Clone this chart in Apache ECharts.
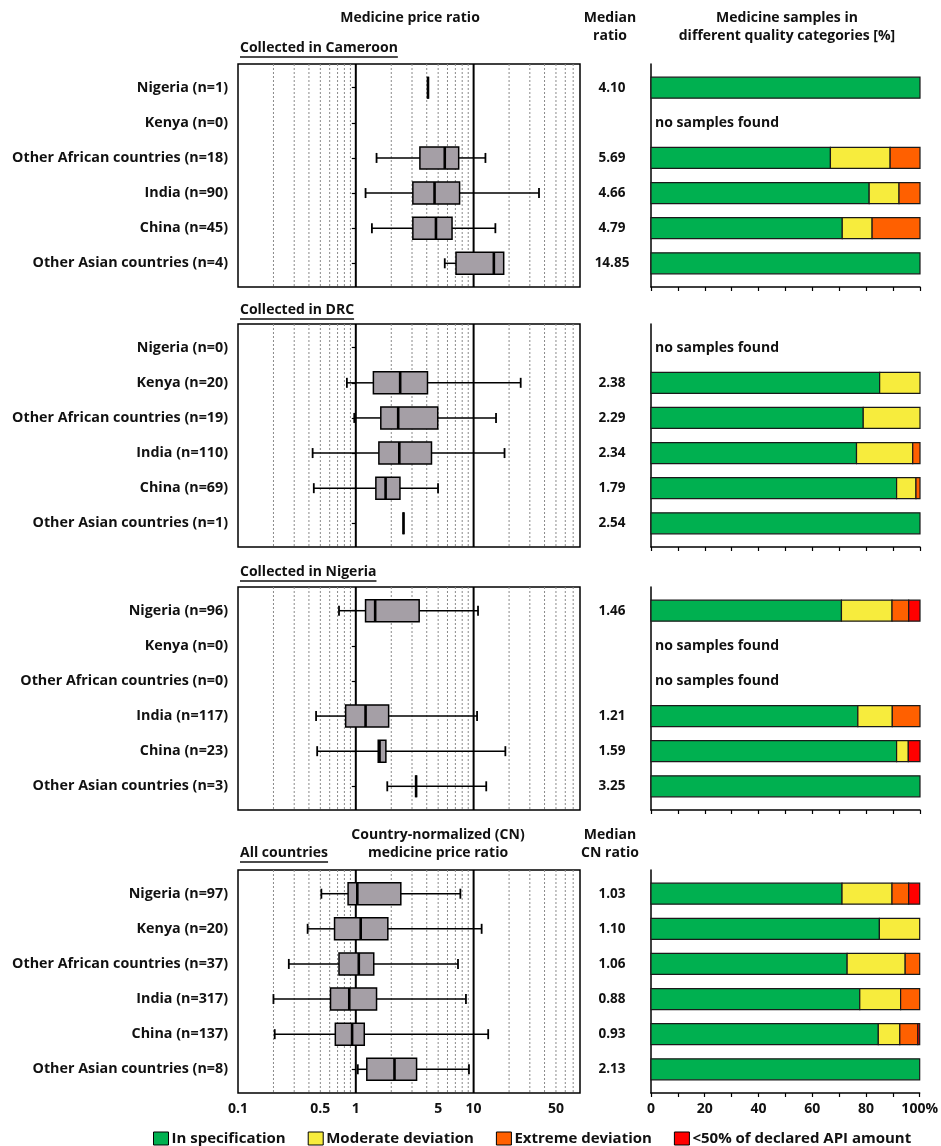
<!DOCTYPE html>
<html>
<head>
<meta charset="utf-8">
<script src="https://cdn.jsdelivr.net/npm/echarts@6/dist/echarts.min.js"></script>
<style>
  html, body { margin: 0; padding: 0; background: #fff; }
  #chart { width: 941px; height: 1146px; }
</style>
</head>
<body>
<div id="chart"></div>
<script>
// --- data ---------------------------------------------------------------
const cameroonLabels = ['Nigeria (n=1)', 'Kenya (n=0)', 'Other African countries (n=18)', 'India (n=90)', 'China (n=45)', 'Other Asian countries (n=4)'];
const drcLabels = ['Nigeria (n=0)', 'Kenya (n=20)', 'Other African countries (n=19)', 'India (n=110)', 'China (n=69)', 'Other Asian countries (n=1)'];
const nigeriaLabels = ['Nigeria (n=96)', 'Kenya (n=0)', 'Other African countries (n=0)', 'India (n=117)', 'China (n=23)', 'Other Asian countries (n=3)'];
const allLabels = ['Nigeria (n=97)', 'Kenya (n=20)', 'Other African countries (n=37)', 'India (n=317)', 'China (n=137)', 'Other Asian countries (n=8)'];

// price ratio boxes: [min, Q1, median, Q3, max]
const cameroonBoxes = [[4.10, 4.10, 4.10, 4.10, 4.10], null, [1.50, 3.50, 5.69, 7.47, 12.6], [1.21, 3.05, 4.66, 7.6, 35.9], [1.37, 3.05, 4.79, 6.56, 15.3], [5.69, 7.09, 14.85, 18.0, 18.0]];
const drcBoxes = [null, [0.84, 1.41, 2.38, 4.06, 25.1], [0.97, 1.63, 2.29, 4.96, 15.5], [0.43, 1.57, 2.34, 4.39, 18.3], [0.44, 1.48, 1.79, 2.37, 4.99], [2.54, 2.54, 2.54, 2.54, 2.54]];
const nigeriaBoxes = [[0.72, 1.21, 1.46, 3.45, 10.9], null, null, [0.46, 0.82, 1.21, 1.90, 10.7], [0.47, 1.55, 1.59, 1.80, 18.6], [1.85, 3.25, 3.25, 3.25, 12.8]];
const allBoxes = [[0.51, 0.86, 1.03, 2.41, 7.72], [0.39, 0.66, 1.10, 1.87, 11.7], [0.27, 0.72, 1.06, 1.42, 7.37], [0.20, 0.61, 0.88, 1.50, 8.61], [0.205, 0.67, 0.93, 1.18, 13.3], [1.04, 1.24, 2.13, 3.28, 9.13]];

const cameroonMedians = ['4.10', '', '5.69', '4.66', '4.79', '14.85'];
const drcMedians = ['', '2.38', '2.29', '2.34', '1.79', '2.54'];
const nigeriaMedians = ['1.46', '', '', '1.21', '1.59', '3.25'];
const allMedians = ['1.03', '1.10', '1.06', '0.88', '0.93', '2.13'];

// quality shares [%]: [in specification, moderate, extreme, <50% API]
const cameroonQuality = [[100, 0, 0, 0], null, [66.7, 22.2, 11.1, 0], [81.1, 11.1, 7.8, 0], [71.1, 11.1, 17.8, 0], [100, 0, 0, 0]];
const drcQuality = [null, [85, 15, 0, 0], [78.9, 21.1, 0, 0], [76.4, 20.9, 2.7, 0], [91.3, 7.2, 1.5, 0], [100, 0, 0, 0]];
const nigeriaQuality = [[70.8, 18.8, 6.2, 4.2], null, null, [76.9, 12.8, 10.3, 0], [91.3, 4.35, 0, 4.35], [100, 0, 0, 0]];
const allQuality = [[71.1, 18.6, 6.2, 4.1], [85, 15, 0, 0], [73, 21.6, 5.4, 0], [77.7, 15.2, 7.1, 0], [84.6, 8.0, 6.7, 0.7], [100, 0, 0, 0]];

const qualityNames = ['In specification', 'Moderate deviation', 'Extreme deviation', '<50% of declared API amount'];
const qualityColors = ['#00b050', '#f7ec3d', '#ff6000', '#ff0000'];

const priceTicks = [0.1, 0.5, 1, 5, 10, 50];
const priceGridLines = [0.2, 0.3, 0.4, 0.5, 0.6, 0.7, 0.8, 0.9, 2, 3, 4, 5, 6, 7, 8, 9, 20, 30, 40, 50, 60, 70];
const priceRefLines = [1, 10];
const qualityTicks = [0, 20, 40, 60, 80, 100];
const qualityMinorTicks = [0, 10, 20, 30, 40, 50, 60, 70, 80, 90, 100];
const rowTicks = [0, 1, 2, 3, 4, 5];

// --- layout -------------------------------------------------------------
const FONT = '"Open Sans", "DejaVu Sans", sans-serif';
const INK = '#111';
const panelTops = [64, 324, 587, 870];
const PANEL_H = 223;
const Y_MIN = -0.675, Y_MAX = 5.675;
const LOG_MIN = -1, LOG_MAX = Math.log10(80);

const panels = [
  { title: 'Collected in Cameroon', labels: cameroonLabels, boxes: cameroonBoxes, medians: cameroonMedians, quality: cameroonQuality },
  { title: 'Collected in DRC', labels: drcLabels, boxes: drcBoxes, medians: drcMedians, quality: drcQuality },
  { title: 'Collected in Nigeria', labels: nigeriaLabels, boxes: nigeriaBoxes, medians: nigeriaMedians, quality: nigeriaQuality },
  { title: 'All countries', labels: allLabels, boxes: allBoxes, medians: allMedians, quality: allQuality }
];

const boldText = (size) => ({ fontFamily: FONT, fontWeight: 'bold', fontSize: size, color: INK });

function textWidth(str, size) {
  const ctx = document.createElement('canvas').getContext('2d');
  ctx.font = 'bold ' + size + 'px ' + FONT;
  return ctx.measureText(str).width;
}

const chart = echarts.init(document.getElementById('chart'));

const grid = [], xAxis = [], yAxis = [], series = [];

const hiddenY = () => ({
  type: 'value', inverse: true, min: Y_MIN, max: Y_MAX,
  splitLine: { show: false }, axisLine: { show: false },
  axisTick: { show: false }, axisLabel: { show: false }
});

panels.forEach((p, k) => {
  const top = panelTops[k];
  const last = k === panels.length - 1;
  const gBox = grid.length;

  // box plot grid
  grid.push({ left: 238, top, width: 342, height: PANEL_H, show: true, borderColor: '#000', borderWidth: 1.5, backgroundColor: 'transparent' });
  xAxis.push({
    gridIndex: gBox, type: 'value', min: LOG_MIN, max: LOG_MAX,
    splitLine: { show: false }, axisLine: { show: false }, axisTick: { show: false },
    axisLabel: last ? {
      show: true, customValues: priceTicks.map(Math.log10), margin: 9,
      formatter: v => String(Number(Math.pow(10, v).toPrecision(2))),
      ...boldText(14)
    } : { show: false }
  });
  yAxis.push({
    ...hiddenY(), gridIndex: gBox,
    axisTick: { show: true, customValues: rowTicks, length: 4, lineStyle: { color: '#000', width: 1.2 } },
    axisLabel: { show: true, customValues: rowTicks, margin: 10, formatter: v => p.labels[Math.round(v)], ...boldText(14.3) }
  });

  // median column grid
  const gMed = grid.length;
  grid.push({ left: 592, top, width: 40, height: PANEL_H });
  xAxis.push({ gridIndex: gMed, type: 'value', min: 0, max: 1, show: false });
  yAxis.push({ ...hiddenY(), gridIndex: gMed });

  // quality bars grid
  const gBar = grid.length;
  grid.push({ left: 651, top, width: 269, height: PANEL_H });
  xAxis.push({
    gridIndex: gBar, type: 'value', min: 0, max: 100, interval: 10,
    splitLine: { show: false },
    axisLine: { show: true, onZero: false, lineStyle: { color: '#000', width: 1.5 } },
    axisTick: { show: true, customValues: qualityMinorTicks, length: 4, lineStyle: { color: '#000', width: 1.2 } },
    axisLabel: last ? {
      show: true, customValues: qualityTicks, margin: 9,
      formatter: v => (v === 100 ? '100%' : String(v)), ...boldText(14)
    } : { show: false }
  });
  yAxis.push({ ...hiddenY(), gridIndex: gBar, axisLine: { show: true, onZero: false, lineStyle: { color: '#000', width: 1.5 } } });

  // dotted minor grid lines
  series.push({
    type: 'custom', xAxisIndex: gBox, yAxisIndex: gBox, silent: true, z: 1,
    data: priceGridLines.map(v => [Math.log10(v)]),
    renderItem: (params, api) => {
      const a = api.coord([api.value(0), Y_MIN]);
      const b = api.coord([api.value(0), Y_MAX]);
      return { type: 'line', shape: { x1: a[0], y1: a[1], x2: b[0], y2: b[1] }, style: { stroke: '#8a8a8a', lineWidth: 1, lineDash: [2, 2] } };
    }
  });
  // solid reference lines at 1 and 10
  series.push({
    type: 'custom', xAxisIndex: gBox, yAxisIndex: gBox, silent: true, z: 2,
    data: priceRefLines.map(v => [Math.log10(v)]),
    renderItem: (params, api) => {
      const a = api.coord([api.value(0), Y_MIN]);
      const b = api.coord([api.value(0), Y_MAX]);
      return { type: 'line', shape: { x1: a[0], y1: a[1], x2: b[0], y2: b[1] }, style: { stroke: '#000', lineWidth: 2 } };
    }
  });

  // box plots
  const boxRows = [];
  p.boxes.forEach((b, i) => { if (b) boxRows.push([i, ...b.map(Math.log10)]); });
  series.push({
    type: 'custom', xAxisIndex: gBox, yAxisIndex: gBox, z: 3,
    data: boxRows,
    renderItem: (params, api) => {
      const y = api.coord([0, api.value(0)])[1];
      const x = i => api.coord([api.value(i), 0])[0];
      const xmin = x(1), q1 = x(2), med = x(3), q3 = x(4), xmax = x(5);
      const h = 22, cap = 10;
      const line = (x1, y1, x2, y2, w) => ({ type: 'line', shape: { x1, y1, x2, y2 }, style: { stroke: '#000', lineWidth: w } });
      const children = [];
      if (xmin < q1 - 0.5) {
        children.push(line(xmin, y, q1, y, 1.5), line(xmin, y - cap / 2, xmin, y + cap / 2, 1.8));
      }
      if (xmax > q3 + 0.5) {
        children.push(line(q3, y, xmax, y, 1.5), line(xmax, y - cap / 2, xmax, y + cap / 2, 1.8));
      }
      children.push({ type: 'rect', shape: { x: q1, y: y - h / 2, width: q3 - q1, height: h }, style: { fill: '#a59fa6', stroke: '#000', lineWidth: 1.5 } });
      children.push(line(med, y - h / 2, med, y + h / 2, 2.6));
      return { type: 'group', children };
    }
  });

  // median values
  const medRows = [];
  p.medians.forEach((m, i) => { if (m) medRows.push({ m, i }); });
  series.push({
    type: 'custom', xAxisIndex: gMed, yAxisIndex: gMed, silent: true,
    data: medRows.map(e => [0.5, e.i]),
    renderItem: (params, api) => {
      const pt = api.coord([api.value(0), api.value(1)]);
      return { type: 'text', x: pt[0], y: pt[1], style: { text: medRows[params.dataIndex].m, textAlign: 'center', textVerticalAlign: 'middle', font: 'bold 13.5px ' + FONT, fill: INK } };
    }
  });

  // stacked quality bars, one series per category
  qualityNames.forEach((name, c) => {
    const segs = [];
    p.quality.forEach((q, i) => {
      if (!q || !q[c]) return;
      const start = q.slice(0, c).reduce((s, v) => s + v, 0);
      segs.push([start, start + q[c], i]);
    });
    series.push({
      type: 'custom', name, xAxisIndex: gBar, yAxisIndex: gBar, z: 3,
      itemStyle: { color: qualityColors[c] },
      data: segs,
      renderItem: (params, api) => {
        const a = api.coord([api.value(0), api.value(2)]);
        const b = api.coord([api.value(1), api.value(2)]);
        const h = 21;
        return { type: 'rect', shape: { x: a[0], y: a[1] - h / 2, width: b[0] - a[0], height: h }, style: { fill: qualityColors[c], stroke: '#1a1a1a', lineWidth: 1.2 } };
      }
    });
  });

  // "no samples found"
  const emptyRows = [];
  p.quality.forEach((q, i) => { if (!q) emptyRows.push([0, i]); });
  series.push({
    type: 'custom', xAxisIndex: gBar, yAxisIndex: gBar, silent: true,
    data: emptyRows,
    renderItem: (params, api) => {
      const pt = api.coord([api.value(0), api.value(1)]);
      return { type: 'text', x: pt[0] + 4, y: pt[1], style: { text: 'no samples found', textAlign: 'left', textVerticalAlign: 'middle', font: 'bold 14px ' + FONT, fill: INK } };
    }
  });
});

// --- headers and panel titles --------------------------------------------
const headerFont = 'bold 14px ' + FONT;
const text = (str, x, y, align) => ({ type: 'text', x, y, style: { text: str, textAlign: align || 'center', textVerticalAlign: 'middle', font: headerFont, fill: INK } });
const titleYs = [48, 310, 572, 853];
const graphic = [
  text('Medicine price ratio', 410, 18),
  text('Median', 610, 18), text('ratio', 610, 36),
  text('Medicine samples in', 787, 18), text('different quality categories [%]', 787, 36),
  text('Country-normalized (CN)', 438, 835), text('medicine price ratio', 438, 853),
  text('Median', 610, 835), text('CN ratio', 610, 853)
];
panels.forEach((p, k) => {
  const y = titleYs[k];
  const w = textWidth(p.title, 14);
  graphic.push(text(p.title, 240, y, 'left'));
  graphic.push({ type: 'line', shape: { x1: 240, y1: y + 9, x2: 240 + w, y2: y + 9 }, style: { stroke: INK, lineWidth: 1.3 } });
});

chart.setOption({
  backgroundColor: '#fff',
  animation: false,
  textStyle: { fontFamily: FONT },
  grid, xAxis, yAxis, series, graphic,
  legend: {
    left: 148, top: 1126, icon: 'rect', itemWidth: 15, itemHeight: 13, itemGap: 22,
    selectedMode: false,
    data: qualityNames.map((name, c) => ({ name, itemStyle: { color: qualityColors[c], borderColor: '#000', borderWidth: 1 } })),
    textStyle: { ...boldText(15), padding: [0, 0, 0, -2] }
  }
});
</script>
</body>
</html>
